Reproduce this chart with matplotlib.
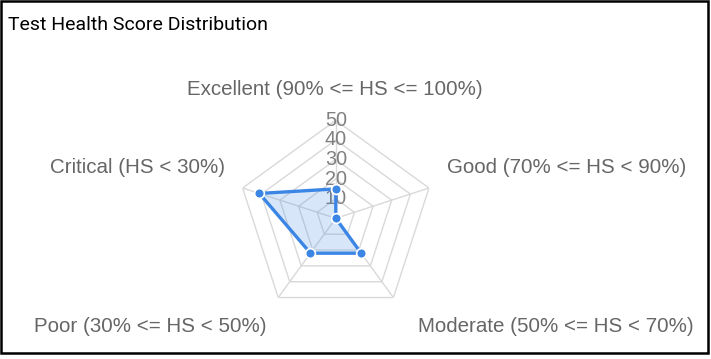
import numpy as np
import matplotlib.pyplot as plt
from matplotlib.patches import Rectangle

# radar data, clockwise from the top
categories = ['Excellent (90% <= HS <= 100%)', 'Good (70% <= HS < 90%)',
              'Moderate (50% <= HS < 70%)', 'Poor (30% <= HS < 50%)',
              'Critical (HS < 30%)']
values = [15, 0, 22, 22, 41]
ticks = [10, 20, 30, 40, 50]

# label placement, pixel offsets from the outer vertex
label_offsets = [(-1.3, 31), (17.7, 20.3), (24.7, -29.4), (-11.6, -29.4), (-17.3, 20.8)]
label_ha = ['center', 'left', 'left', 'right', 'right']

W, H = 711, 359
fig = plt.figure(figsize=(W / 100, H / 100), dpi=100)
cx, cy, R = 335.8, 218.3, 98
ax = fig.add_axes([(cx - R) / W, (H - cy - R) / H, 2 * R / W, 2 * R / H], projection='polar')
ax.set_theta_zero_location('N')
ax.set_theta_direction(-1)
ax.set_ylim(0, 50)
ax.grid(False)
ax.spines['polar'].set_visible(False)
ax.set_xticks([])
ax.set_yticks([])
ax.patch.set_alpha(0)

n = len(categories)
angles = np.arange(n) * 2 * np.pi / n
closed = np.append(angles, angles[0])

grid_color = '#d9d9d9'
for t in ticks:
    ax.plot(closed, [t] * (n + 1), color=grid_color, lw=1, zorder=1)
for a in angles:
    ax.plot([a, a], [0, ticks[-1]], color=grid_color, lw=1, zorder=1)
for t in ticks:
    ax.text(0, t, str(t), ha='center', va='center', color='#808080',
            fontsize=14.3, family='Liberation Sans', zorder=2)

line_color = '#3b86e5'
vals = values + values[:1]
ax.fill(closed, vals, color=line_color, alpha=0.2, lw=0, zorder=3)
ax.plot(closed, vals, color=line_color, lw=2.4, marker='o', ms=7,
        mfc=line_color, mec='white', mew=1.2, zorder=4)

for a, lab, off, ha in zip(angles, categories, label_offsets, label_ha):
    ax.annotate(lab, xy=(a, ticks[-1]), xytext=off, textcoords='offset pixels',
                ha=ha, va='center', color='#666666', fontsize=14.8,
                family='Liberation Sans', annotation_clip=False)

fig.text(8 / W, 1 - 30.5 / H, 'Test Health Score Distribution', family='Roboto',
         fontsize=14, va='baseline', ha='left', color='black')

fig.add_artist(Rectangle((1.3 / W, 5.7 / H), (708 - 1.3) / W, (358 - 5.7) / H,
                         transform=fig.transFigure, fill=False, ec='black', lw=1.8))

fig.savefig('out.png', dpi=100)
